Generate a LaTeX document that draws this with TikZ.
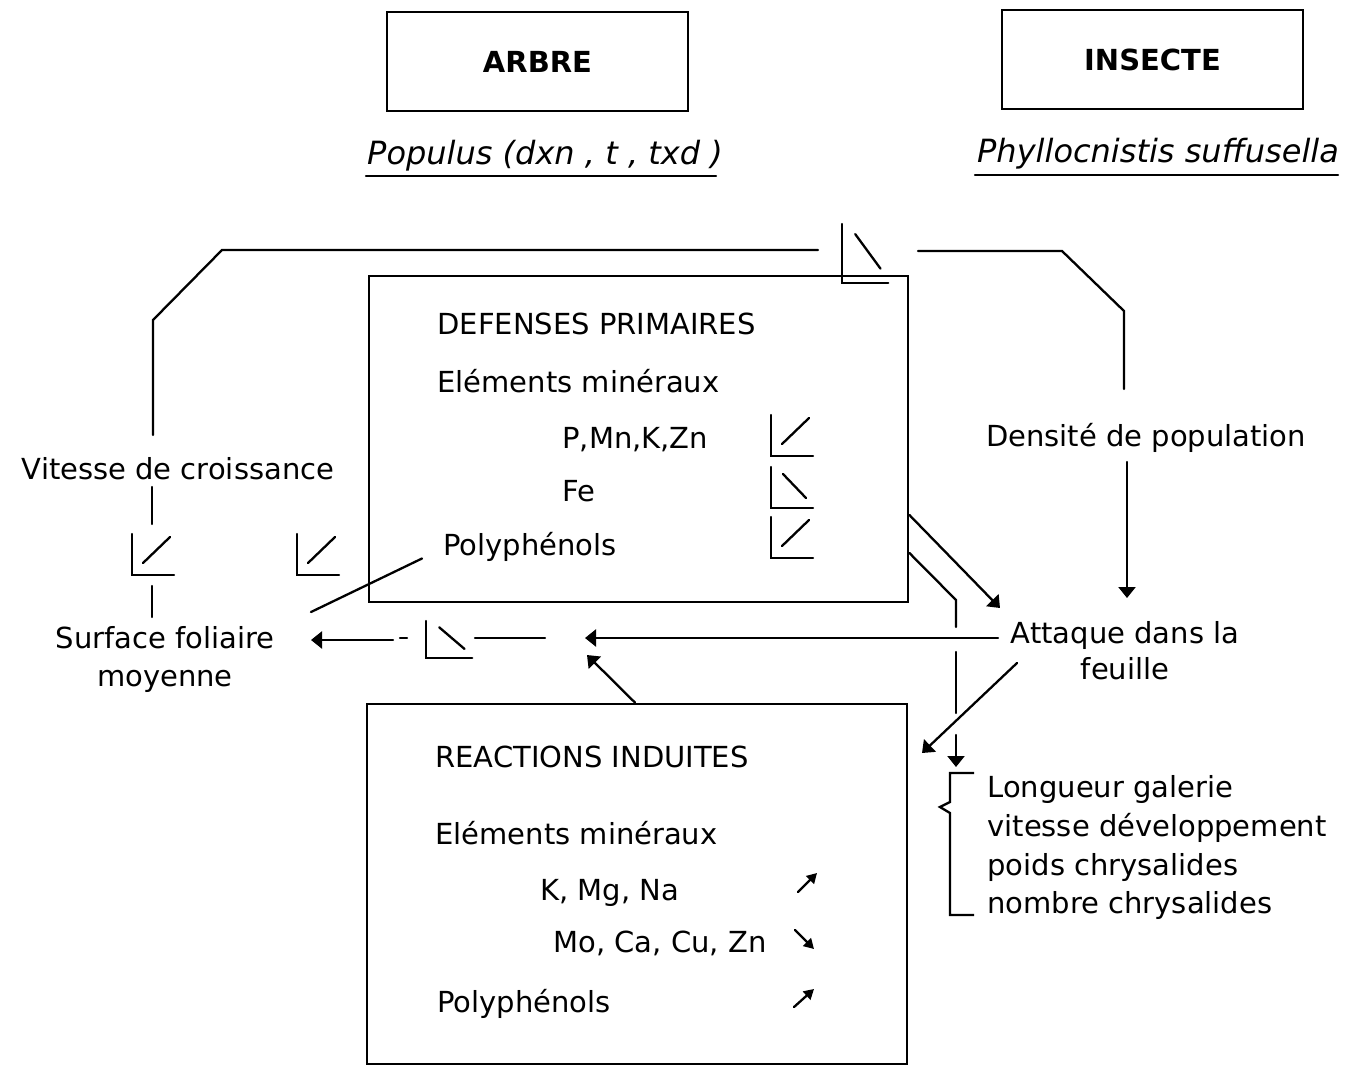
\documentclass[tikz,border=0pt]{standalone}
\usepackage{fontspec}
\setmainfont{DejaVu Sans}
\usetikzlibrary{arrows.meta,calc}

\begin{document}
\begin{tikzpicture}[x=0.5pt, y=-0.5pt,
    font=\fontsize{14.5}{19.4}\selectfont,
    trait/.style={line width=1.15pt, line cap=round},
    arr/.style={trait, -{Triangle[length=5.5pt,width=8.5pt]}},
    petit/.style={trait, -{Triangle[length=5pt,width=5.5pt]}},
    cadre/.style={draw, line width=1.4pt, inner sep=0pt},
    titre/.style={cadre, minimum width=150.5pt, minimum height=49.5pt,
      font=\fontsize{14.5}{17}\selectfont\bfseries},
    espece/.style={inner sep=0pt, font=\fontsize{16}{18}\selectfont\itshape},
    txt/.style={inner sep=0pt, anchor=mid west, yshift=-2.8pt},
    lbl/.style={inner sep=0pt, align=center, yshift=-1.2pt},
    hausse/.pic={\draw[trait] (0,0) -- (0,41) -- (42,41); \draw[trait] (11,29) -- (38,3);},
    baisse/.pic={\draw[trait] (0,0) -- (0,41) -- (42,41); \draw[trait] (12,7) -- (35,31);},
  ]
  \useasboundingbox (0,0) rectangle (1353,1067);

  % en-tetes
  \node[titre] (arbre) at (537.5,61.5) {ARBRE};
  \node[titre] (insecte) at (1152.5,59.5) {INSECTE};
  \node[espece] (populus) at (545,156) {Populus (dxn , t , txd )};
  \node[espece] (phyllo) at (1158,154) {Phyllocnistis suffusella};
  \draw[trait] (366,176) -- (716,176);
  \draw[trait] (975,175) -- (1338,175);

  % defenses primaires
  \node[cadre, minimum width=269.5pt, minimum height=163pt] (defenses) at (638.5,439) {};
  \node[txt] (dp) at (437,323) {DEFENSES PRIMAIRES};
  \node[txt] (em1) at (437,381) {Eléments minéraux};
  \node[txt] (pmn) at (562,437) {P,Mn,K,Zn};
  \node[txt] (fe) at (562,490) {Fe};
  \node[txt] (poly1) at (443,544) {Polyphénols};
  \pic at (771,415) {hausse};
  \pic at (771,467) {baisse};
  \pic at (771,517) {hausse};

  % reactions induites
  \node[cadre, minimum width=270pt, minimum height=180pt] (reactions) at (637,884) {};
  \node[txt] (ri) at (435,756) {REACTIONS INDUITES};
  \node[txt] (em2) at (435,833) {Eléments minéraux};
  \node[txt] (kmg) at (540,889) {K, Mg, Na};
  \node[txt] (moca) at (553,941) {Mo, Ca, Cu, Zn};
  \node[txt] (poly2) at (437,1001) {Polyphénols};
  \draw[petit] (798,892) -- (817,873);
  \draw[petit] (795,930) -- (814,949);
  \draw[petit] (794,1007) -- (814,989);

  % variables
  \node[lbl] (vitesse) at (178,466) {Vitesse de croissance};
  \node[lbl] (surface) at (165,657) {Surface foliaire\\moyenne};
  \node[lbl] (densite) at (1146,436) {Densité de population};
  \node[lbl, font=\fontsize{14.5}{18}\selectfont] (attaque) at (1125,648) {Attaque dans la\\feuille};
  \node[inner sep=0pt, align=left, anchor=north west] (effets) at (987,775)
    {Longueur galerie\\vitesse développement\\poids chrysalides\\nombre chrysalides};

  % extremites libres
  \coordinate (bg) at (153,435);
  \coordinate (bs) at (818,250);
  \coordinate (bd) at (918,251);
  \coordinate (bf) at (1124,389);
  \coordinate (v1) at (152,487); \coordinate (v2) at (152,524);
  \coordinate (v3) at (152,586); \coordinate (v4) at (152,617);
  \coordinate (pl) at (311,612);
  \coordinate (a1) at (998,638);
  \coordinate (jonction) at (585,638);
  \coordinate (r1) at (587,655);
  \coordinate (s1) at (545,638); \coordinate (s2) at (475,638);
  \coordinate (s3) at (407,638); \coordinate (s4) at (400,638);
  \coordinate (s5) at (393,640); \coordinate (s6) at (311,640);
  \coordinate (d1) at (1127,462); \coordinate (d2) at (1127,598);
  \coordinate (f1) at (1000,608);
  \coordinate (g1) at (956,627); \coordinate (g2) at (956,652);
  \coordinate (g3) at (956,713); \coordinate (g4) at (956,735);
  \coordinate (g5) at (956,767);
  \coordinate (h1) at (1017,663); \coordinate (h2) at (922,753);

  % boucle du haut
  \draw[trait] (bg) -- (153,320) -- (222,250) -- (bs);
  \pic[xscale=1.1, yscale=1.44] at (842,224) {baisse};
  \draw[trait] (bd) -- (1062,251) -- (1124,311) -- (bf);

  % cote gauche
  \draw[trait] (v1) -- (v2);
  \pic at (132,534) {hausse};
  \draw[trait] (v3) -- (v4);
  \pic at (297,534) {hausse};
  \draw[trait] ($(poly1.west)+(-21,12)$) -- (pl);

  % vers la surface foliaire
  \draw[arr] (a1) -- (jonction);
  \draw[arr] (reactions.north -| 635,0) -- (r1);
  \draw[trait] (s1) -- (s2);
  \pic[xscale=1.1, yscale=0.9] at (426,621) {baisse};
  \draw[trait] (s3) -- (s4);
  \draw[arr] (s5) -- (s6);

  % cote droit
  \draw[arr] (d1) -- (d2);
  \draw[arr] (defenses.east |- 0,515) -- (f1);
  \draw[trait] (defenses.east |- 0,553) -- (956,600) -- (g1);
  \draw[trait] (g2) -- (g3);
  \draw[arr] (g4) -- (g5);
  \draw[arr] (h1) -- (h2);
  \draw[trait, line cap=butt] (974,773) -- (950,773) -- (950,802) -- (940,807)
    -- (950,813) -- (950,915) -- (974,915);
\end{tikzpicture}
\end{document}
